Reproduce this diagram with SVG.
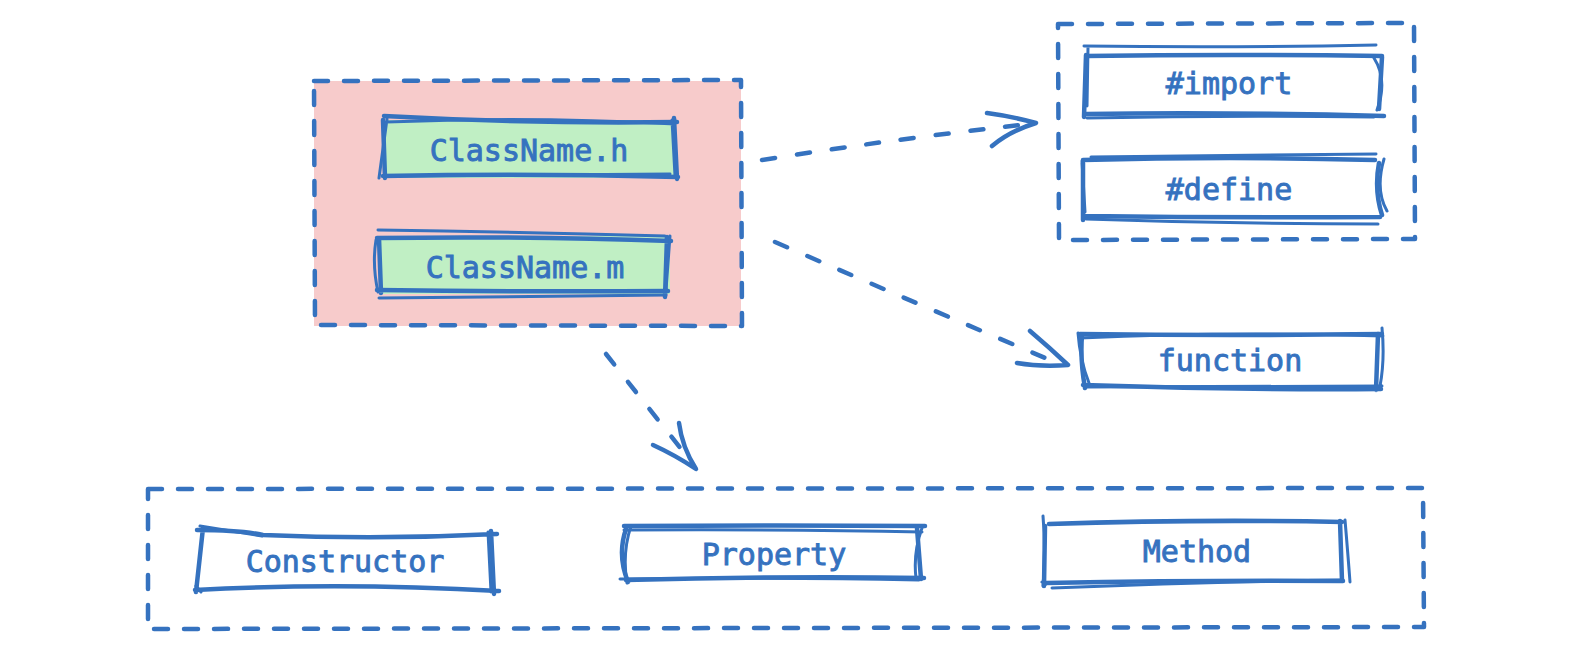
<svg xmlns="http://www.w3.org/2000/svg" width="1578" height="660" viewBox="0 0 1578 660">
<style>
.grp{fill:none;stroke:#3572bf;stroke-width:4.5;stroke-dasharray:14 16;stroke-linecap:round;stroke-linejoin:round}
.sk{fill:none;stroke:#3572bf;stroke-width:4.5;stroke-linecap:round;stroke-linejoin:round}
.sk2{fill:none;stroke:#3572bf;stroke-width:3;stroke-linecap:round;stroke-linejoin:round}
.con{fill:none;stroke:#3572bf;stroke-width:4.5;stroke-dasharray:13 22;stroke-linecap:round}
.head{fill:none;stroke:#3572bf;stroke-width:4.5;stroke-linecap:round;stroke-linejoin:round}
.lbl{font-family:"DejaVu Sans Mono","Liberation Mono",monospace;font-size:30px;font-weight:normal;fill:#3572bf;stroke:#3572bf;stroke-width:0.9;text-anchor:middle;dominant-baseline:central}
</style>
<rect width="1578" height="660" fill="#ffffff"/>

<g id="group-file">
<rect x="314" y="81" width="427" height="245" fill="#f7cbcb"/>
<path class="grp" d="M314 81 L741 80 L742 326 L315 325 Z"/>
</g>

<g id="node-classname-h">
<rect x="386" y="120" width="290" height="58" fill="#c0efc4"/>
<path class="sk" d="M384 116 Q530 124 677 122 M383 120 L385 178 M383 176 Q530 173 678 177 M674 118 L677 179"/>
<path class="sk2" d="M386 122 Q530 116 675 124 M387 119 L379 178 M390 176 L670 174 M672 120 L675 176"/>
<text class="lbl" x="529" y="150">ClassName.h</text>
</g>

<g id="node-classname-m">
<rect x="380" y="236" width="290" height="58" fill="#c0efc4"/>
<path class="sk" d="M377 238 Q530 236 671 241 M379 238 L381 293 M377 290 Q530 292 668 291 M667 237 L665 297"/>
<path class="sk2" d="M378 230 Q520 232 665 236 M376 240 Q372 265 378 292 M379 298 L666 295 M670 236 L666 290"/>
<text class="lbl" x="525" y="267">ClassName.m</text>
</g>

<g id="group-preproc">
<path class="grp" d="M1058 24 L1414 23 L1415 239 L1059 240 Z"/>
</g>

<g id="node-import">
<path class="sk" d="M1086 56 Q1230 54 1382 56 M1086 55 L1084 117 M1086 114 Q1230 112 1384 116 M1382 57 L1379 109"/>
<path class="sk2" d="M1084 46 Q1230 48 1376 45 M1088 47 L1087 106 M1087 118 Q1230 115 1374 117 M1374 58 Q1388 80 1377 110"/>
<text class="lbl" x="1229" y="83">#import</text>
</g>

<g id="node-define">
<path class="sk" d="M1083 160 Q1230 156 1375 160 M1083 163 L1083 220 M1084 216 Q1230 218 1380 217 M1379 163 Q1374 190 1382 215"/>
<path class="sk2" d="M1091 157 Q1230 155 1376 154 M1082 161 L1085 212 M1086 219 Q1230 224 1378 224 M1384 159 Q1375 190 1387 211"/>
<text class="lbl" x="1229" y="189">#define</text>
</g>

<g id="node-function">
<path class="sk" d="M1080 334 Q1230 336 1382 334 M1082 335 Q1080 360 1085 388 M1083 385 Q1230 390 1381 389 M1378 334 L1376 390"/>
<path class="sk2" d="M1080 338 Q1230 331 1383 336 M1078 333 Q1080 360 1089 383 M1085 387 L1382 386 M1382 328 Q1385 360 1380 386"/>
<text class="lbl" x="1230" y="360">function</text>
</g>

<g id="group-class">
<path class="grp" d="M148 489 L1423 488 L1424 627 L148 629 Z"/>
</g>

<g id="node-constructor">
<path class="sk" d="M197 530 Q240 530 263 535 Q380 540 497 534 M203 528 L196 592 M195 590 Q340 582 499 591 M491 531 L494 594"/>
<path class="sk2" d="M200 526 L262 536 M196 586 L201 592 M488 532 L491 592"/>
<text class="lbl" x="345" y="561">Constructor</text>
</g>

<g id="node-property">
<path class="sk" d="M624 526 Q780 525 925 526 M626 529 Q617 555 628 582 M626 580 Q780 576 924 578 M917 528 L921 579"/>
<path class="sk2" d="M624 530 Q780 529 922 532 M631 526 Q622 553 627 583 M620 579 Q780 577 919 580 M922 528 Q913 553 916 578"/>
<text class="lbl" x="774" y="554">Property</text>
</g>

<g id="node-method">
<path class="sk" d="M1049 524 Q1200 519 1342 522 M1045 526 L1044 586 M1046 583 Q1200 580 1343 581 M1340 521 L1342 581"/>
<path class="sk2" d="M1043 516 Q1046 550 1043 586 M1052 588 Q1200 582 1343 580 M1345 520 Q1348 555 1350 582 M1042 582 L1046 584"/>
<text class="lbl" x="1197" y="551">Method</text>
</g>

<g id="connectors">
<path class="con" d="M762 160 Q900 138 1030 124"/>
<path class="head" d="M987 113 Q1010 116 1036 123 Q1010 131 992 146"/>
<path class="con" d="M775 242 Q920 305 1050 360"/>
<path class="head" d="M1030 331 Q1050 348 1068 365 Q1040 367 1017 363"/>
<path class="con" d="M606 354 Q650 410 690 460"/>
<path class="head" d="M679 423 Q682 447 696 469 Q675 455 653 445"/>
</g>
</svg>
